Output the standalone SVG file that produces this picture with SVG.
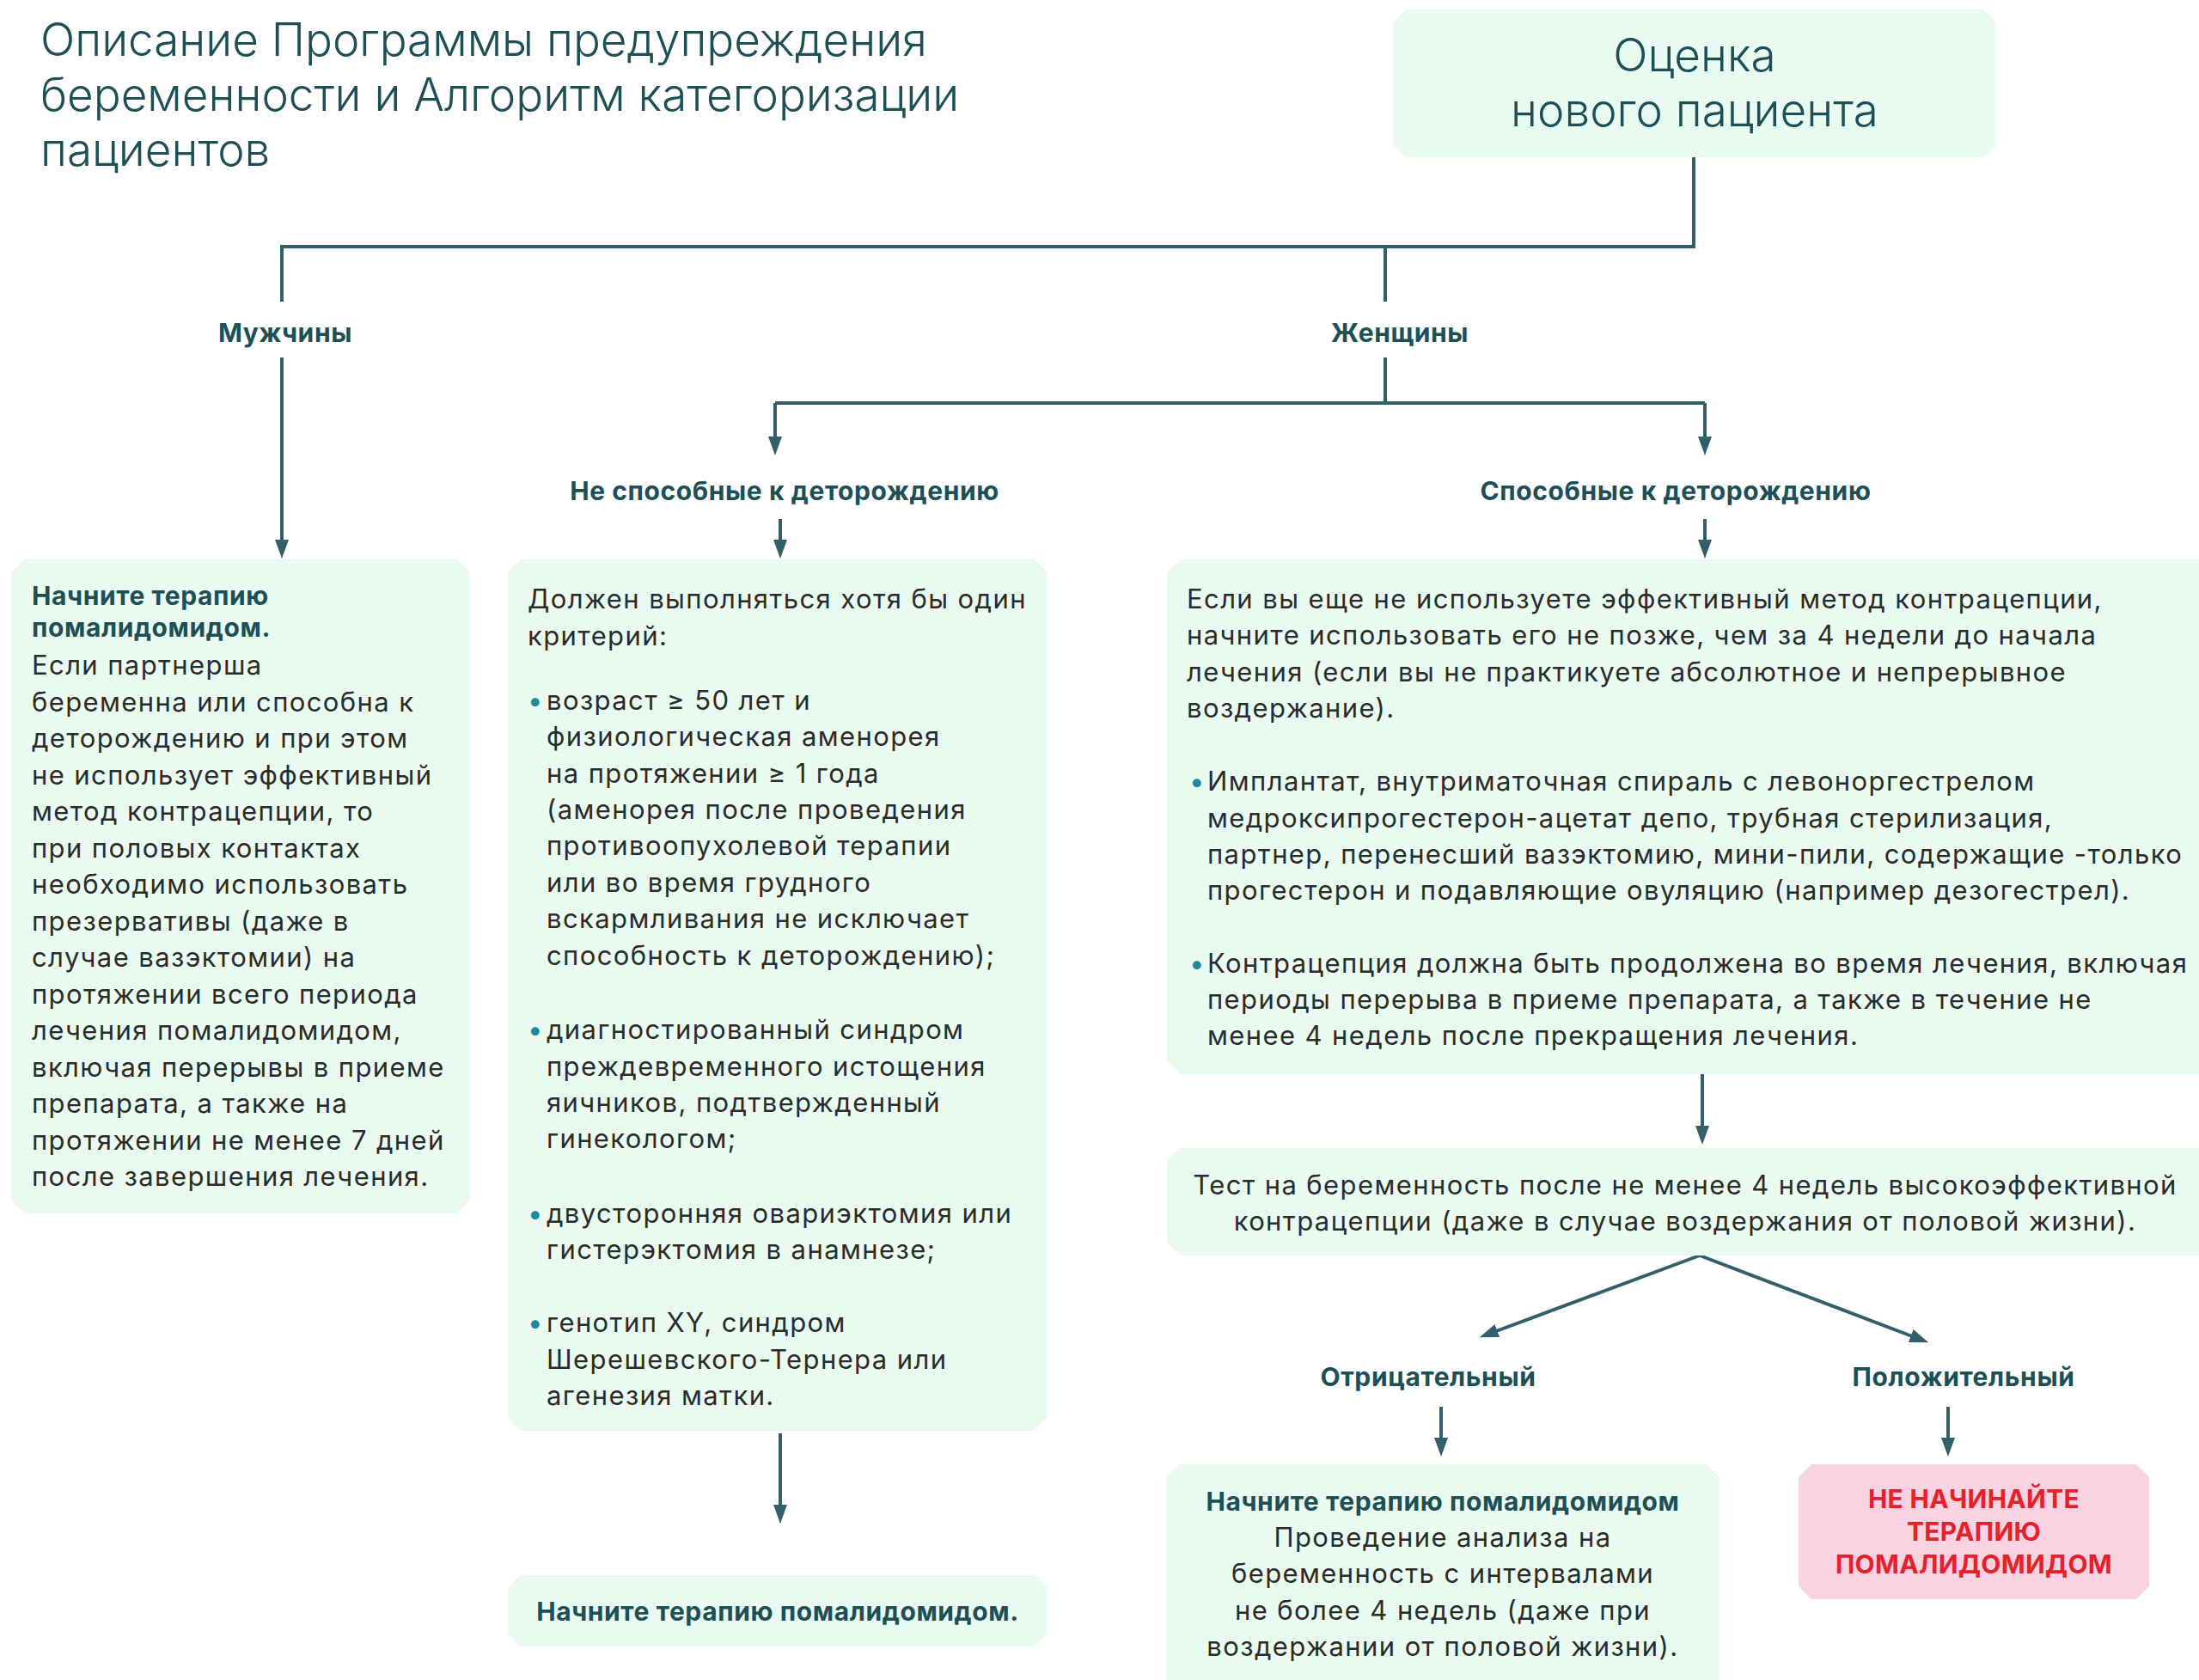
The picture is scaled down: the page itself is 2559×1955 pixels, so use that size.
<svg xmlns="http://www.w3.org/2000/svg" width="2559" height="1955" viewBox="0 0 2559 1955">
<defs>
<style>
.box{fill:#e9fbf1}
.pink{fill:#f9d3e1}
.title{font-family:Inter,"Open Sans",sans-serif;font-weight:300;font-size:53px;fill:#1d4f57}
.big{font-family:Inter,"Open Sans",sans-serif;font-weight:300;font-size:53px;fill:#1d4f57;text-anchor:middle}
.lbl{font-family:Inter,"Open Sans",sans-serif;font-weight:700;font-size:30px;fill:#1d4f57;text-anchor:middle;letter-spacing:0.6px}
.head{font-family:Inter,"Open Sans",sans-serif;font-weight:700;font-size:30px;fill:#1d4f57;letter-spacing:0.6px}
.body{font-family:Inter,"Open Sans",sans-serif;font-weight:400;font-size:31px;fill:#2b2b2b;letter-spacing:1.4px}
.mid{text-anchor:middle}
.bul{fill:#1a8aa0}
.red{font-family:Inter,"Open Sans",sans-serif;font-weight:700;font-size:30px;fill:#e6212b;text-anchor:middle;letter-spacing:0.3px}
.conn{fill:none;stroke:#335f6b;stroke-width:4}
</style>
<marker id="arr" viewBox="0 -8 22 16" refX="10" refY="0" markerWidth="22" markerHeight="16" markerUnits="userSpaceOnUse" orient="auto">
<path d="M0,-8 L22,0 L0,8 Z" fill="#335f6b"/>
</marker>
</defs>
<rect width="2559" height="1955" fill="#ffffff"/>

<g id="title">
<text class="title" x="47" y="65">Описание Программы предупреждения</text>
<text class="title" x="47" y="129">беременности и Алгоритм категоризации</text>
<text class="title" x="47" y="193">пациентов</text>
</g>

<g id="connectors">
<path class="conn" d="M1971,183 V287 H328 V351"/>
<path class="conn" d="M1612,287 V351"/>
<path class="conn" d="M328,416 V638" marker-end="url(#arr)"/>
<path class="conn" d="M1612,416 V469"/>
<path class="conn" d="M902,469 H1984"/>
<path class="conn" d="M902,469 V518" marker-end="url(#arr)"/>
<path class="conn" d="M1984,469 V518" marker-end="url(#arr)"/>
<path class="conn" d="M908,604 V638" marker-end="url(#arr)"/>
<path class="conn" d="M1984,604 V638" marker-end="url(#arr)"/>
<path class="conn" d="M1981,1244 V1320" marker-end="url(#arr)"/>
<path class="conn" d="M1978,1461 L1733,1552" marker-end="url(#arr)"/>
<path class="conn" d="M1978,1461 L2233,1558" marker-end="url(#arr)"/>
<path class="conn" d="M1677,1637 V1683" marker-end="url(#arr)"/>
<path class="conn" d="M2267,1637 V1683" marker-end="url(#arr)"/>
<path class="conn" d="M908,1668 V1761" marker-end="url(#arr)"/>
</g>

<g id="node-start">
<path class="box" d="M1636,11 H2308 L2323,26 V168 L2308,183 H1636 L1621,168 V26 Z"/>
<text class="big" x="1972" y="83">Оценка</text>
<text class="big" x="1972" y="147">нового пациента</text>
</g>

<g id="label-men"><text class="lbl" x="332" y="398">Мужчины</text></g>
<g id="label-women"><text class="lbl" x="1629" y="398">Женщины</text></g>
<g id="label-nonfertile"><text class="lbl" x="913" y="582">Не способные к деторождению</text></g>
<g id="label-fertile"><text class="lbl" x="1950" y="582">Способные к деторождению</text></g>

<g id="node-men">
<path class="box" d="M28,651 H532 L547,666 V1397 L532,1412 H28 L13,1397 V666 Z"/>
<text class="head" x="37" y="704">Начните терапию</text>
<text class="head" x="37" y="741">помалидомидом.</text>
<text class="body" x="37" y="785">Если партнерша</text>
<text class="body" x="37" y="827.5">беременна или способна к</text>
<text class="body" x="37" y="870">деторождению и при этом</text>
<text class="body" x="37" y="912.5">не использует эффективный</text>
<text class="body" x="37" y="955">метод контрацепции, то</text>
<text class="body" x="37" y="997.5">при половых контактах</text>
<text class="body" x="37" y="1040">необходимо использовать</text>
<text class="body" x="37" y="1082.5">презервативы (даже в</text>
<text class="body" x="37" y="1125">случае вазэктомии) на</text>
<text class="body" x="37" y="1167.5">протяжении всего периода</text>
<text class="body" x="37" y="1210">лечения помалидомидом,</text>
<text class="body" x="37" y="1252.5">включая перерывы в приеме</text>
<text class="body" x="37" y="1295">препарата, а также на</text>
<text class="body" x="37" y="1337.5">протяжении не менее 7 дней</text>
<text class="body" x="37" y="1380">после завершения лечения.</text>
</g>

<g id="node-nonfertile">
<path class="box" d="M606,651 H1204 L1219,666 V1650 L1204,1665 H606 L591,1650 V666 Z"/>
<text class="body" x="614" y="708">Должен выполняться хотя бы один</text>
<text class="body" x="614" y="751">критерий:</text>
<text class="body bul" x="614" y="826">•</text>
<text class="body" x="636" y="826">возраст ≥ 50 лет и</text>
<text class="body" x="636" y="868">физиологическая аменорея</text>
<text class="body" x="636" y="911">на протяжении ≥ 1 года</text>
<text class="body" x="636" y="953">(аменорея после проведения</text>
<text class="body" x="636" y="995">противоопухолевой терапии</text>
<text class="body" x="636" y="1038">или во время грудного</text>
<text class="body" x="636" y="1080">вскармливания не исключает</text>
<text class="body" x="636" y="1123">способность к деторождению);</text>
<text class="body bul" x="614" y="1209">•</text>
<text class="body" x="636" y="1209">диагностированный синдром</text>
<text class="body" x="636" y="1252">преждевременного истощения</text>
<text class="body" x="636" y="1294">яичников, подтвержденный</text>
<text class="body" x="636" y="1336">гинекологом;</text>
<text class="body bul" x="614" y="1423">•</text>
<text class="body" x="636" y="1423">двусторонняя овариэктомия или</text>
<text class="body" x="636" y="1465">гистерэктомия в анамнезе;</text>
<text class="body bul" x="614" y="1550">•</text>
<text class="body" x="636" y="1550">генотип XY, синдром</text>
<text class="body" x="636" y="1593">Шерешевского-Тернера или</text>
<text class="body" x="636" y="1635">агенезия матки.</text>
</g>

<g id="node-fertile">
<path class="box" d="M1373,651 H2575 V1250 H1373 L1358,1235 V666 Z"/>
<text class="body" x="1381" y="708">Если вы еще не используете эффективный метод контрацепции,</text>
<text class="body" x="1381" y="750">начните использовать его не позже, чем за 4 недели до начала</text>
<text class="body" x="1381" y="793">лечения (если вы не практикуете абсолютное и непрерывное</text>
<text class="body" x="1381" y="835">воздержание).</text>
<text class="body bul" x="1384" y="920">•</text>
<text class="body" x="1405" y="920">Имплантат, внутриматочная спираль с левоноргестрелом</text>
<text class="body" x="1405" y="963">медроксипрогестерон-ацетат депо, трубная стерилизация,</text>
<text class="body" x="1405" y="1005">партнер, перенесший вазэктомию, мини-пили, содержащие -только</text>
<text class="body" x="1405" y="1047">прогестерон и подавляющие овуляцию (например дезогестрел).</text>
<text class="body bul" x="1384" y="1132">•</text>
<text class="body" x="1405" y="1132">Контрацепция должна быть продолжена во время лечения, включая</text>
<text class="body" x="1405" y="1174">периоды перерыва в приеме препарата, а также в течение не</text>
<text class="body" x="1405" y="1216">менее 4 недель после прекращения лечения.</text>
</g>

<g id="node-test">
<path class="box" d="M1373,1336 H2575 V1461 H1373 L1358,1446 V1351 Z"/>
<text class="body mid" x="1961" y="1390">Тест на беременность после не менее 4 недель высокоэффективной</text>
<text class="body mid" x="1961" y="1432">контрацепции (даже в случае воздержания от половой жизни).</text>
</g>

<g id="label-negative"><text class="lbl" x="1662" y="1613">Отрицательный</text></g>
<g id="label-positive"><text class="lbl" x="2285" y="1613">Положительный</text></g>

<g id="node-start-therapy">
<path class="box" d="M1372,1704 H1986 L2001,1719 V1970 H1357 V1719 Z"/>
<text class="lbl" x="1679" y="1758">Начните терапию помалидомидом</text>
<text class="body mid" x="1679" y="1800">Проведение анализа на</text>
<text class="body mid" x="1679" y="1842">беременность с интервалами</text>
<text class="body mid" x="1679" y="1885">не более 4 недель (даже при</text>
<text class="body mid" x="1679" y="1927">воздержании от половой жизни).</text>
</g>

<g id="node-do-not-start">
<path class="pink" d="M2108,1704 H2486 L2501,1719 V1846 L2486,1861 H2108 L2093,1846 V1719 Z"/>
<text class="red" x="2297" y="1755">НЕ НАЧИНАЙТЕ</text>
<text class="red" x="2297" y="1793">ТЕРАПИЮ</text>
<text class="red" x="2297" y="1831">ПОМАЛИДОМИДОМ</text>
</g>

<g id="node-start-nonfertile">
<path class="box" d="M605,1833 H1205 L1219,1848 V1901 L1205,1916 H605 L591,1901 V1848 Z"/>
<text class="lbl" x="905" y="1886">Начните терапию помалидомидом.</text>
</g>
</svg>
